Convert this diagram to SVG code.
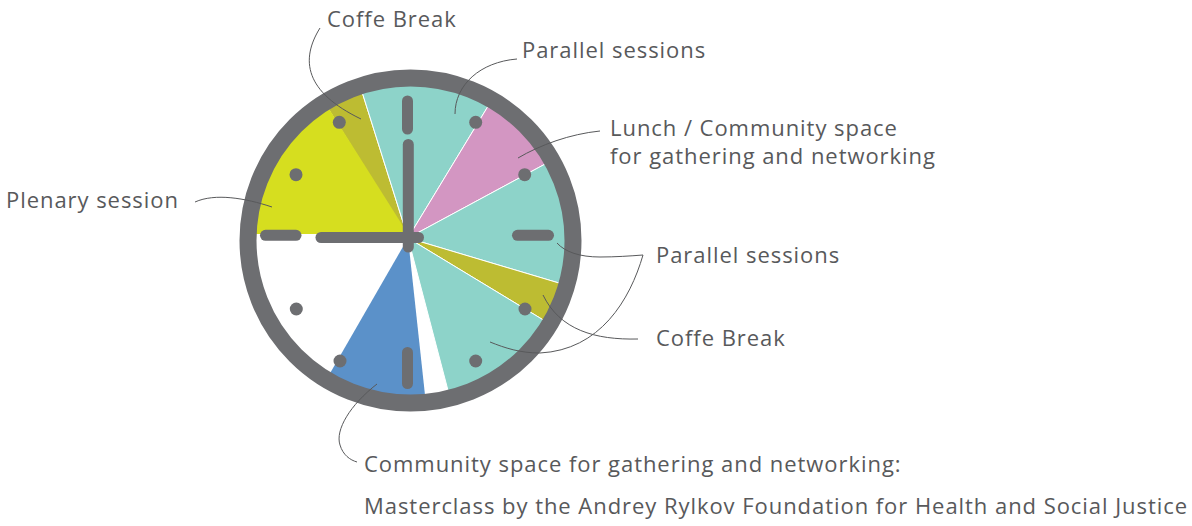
<svg xmlns="http://www.w3.org/2000/svg" width="1192" height="526" viewBox="0 0 1192 526">
<style>
.lbl{font-family:"Open Sans","Liberation Sans",sans-serif;font-size:22px;fill:#58595b;letter-spacing:0.95px}
.lead{fill:none;stroke:#58595b;stroke-width:1}
.mk{stroke:#6d6e71;stroke-width:11;stroke-linecap:round;fill:none}
.dot{fill:#6d6e71}
.w{stroke:#fff;stroke-width:1}
</style>
<defs>
<clipPath id="face"><circle cx="410.5" cy="240.5" r="162"/></clipPath>
</defs>
<rect width="1192" height="526" fill="#fff"/>
<g id="clock">
<g clip-path="url(#face)">
<path class="w" fill="#bdbc32" d="M408,238 L291,48.5 L340.5,23.5 Z"/>
<path class="w" fill="#8dd3c9" d="M408,238 L340.5,23.5 L526.1,43.5 Z"/>
<path class="w" fill="#d396c2" d="M408,238 L526.1,43.5 L611,128.5 Z"/>
<path class="w" fill="#8dd3c9" d="M408,238 L611,128.5 L636,306 Z"/>
<path class="w" fill="#bdbc32" d="M408,238 L636,306 L611,361 Z"/>
<path class="w" fill="#8dd3c9" d="M408,238 L611,361 L468.5,468.6 Z"/>
<path fill="#5b91c9" d="M408,238 L433.5,473.5 L291,441 Z"/>
<path fill="#d6de1f" d="M408,234 L181,234 L181,100 L291,48.5 Z"/>
</g>
<circle cx="410.5" cy="240.5" r="162.5" fill="none" stroke="#6d6e71" stroke-width="17"/>
<line class="mk" x1="407.5" y1="101" x2="407.5" y2="129"/>
<line class="mk" x1="407.5" y1="352.5" x2="407.5" y2="383.5"/>
<line class="mk" x1="517.5" y1="235.3" x2="548.5" y2="235.3"/>
<line class="mk" x1="265.5" y1="235.3" x2="296" y2="235.3"/>
<circle class="dot" cx="339.3" cy="122.3" r="6.5"/>
<circle class="dot" cx="475.7" cy="122.3" r="6.5"/>
<circle class="dot" cx="296" cy="174.7" r="6.5"/>
<circle class="dot" cx="524.7" cy="174.7" r="6.5"/>
<circle class="dot" cx="296.3" cy="309" r="6.5"/>
<circle class="dot" cx="525" cy="309" r="6.5"/>
<circle class="dot" cx="340" cy="361" r="6.5"/>
<circle class="dot" cx="475.7" cy="361" r="6.5"/>
<line class="mk" x1="408.3" y1="144.5" x2="408.3" y2="247"/>
<line class="mk" x1="321" y1="237.5" x2="418.5" y2="237.5"/>
</g>
<g id="connectors">
<path class="lead" d="M320,28 C300,60 305,92 361,119"/>
<path class="lead" d="M517,59 C480,62 455,85 455,114"/>
<path class="lead" d="M600,131 C570,134 540,145 518,158"/>
<path class="lead" d="M195,202 C215,193 245,198 272,207"/>
<path class="lead" d="M557,243 C565,252 580,257 600,257 C615,257 630,256 643,255"/>
<path class="lead" d="M643,255 C630,300 600,350 540,353 C520,353 505,348 490,342"/>
<path class="lead" d="M543,295 C560,330 595,340 638,339"/>
<path class="lead" d="M377,384 C350,405 335,430 340,445 C343,455 350,460 357,462"/>
</g>
<g id="label-coffee-top"><text class="lbl" x="327" y="27">Coffe Break</text></g>
<g id="label-parallel-top"><text class="lbl" x="522" y="58">Parallel sessions</text></g>
<g id="label-lunch"><text class="lbl" x="610" y="136">Lunch / Community space</text><text class="lbl" x="610" y="164">for gathering and networking</text></g>
<g id="label-plenary"><text class="lbl" x="6" y="208">Plenary session</text></g>
<g id="label-parallel-right"><text class="lbl" x="656" y="263">Parallel sessions</text></g>
<g id="label-coffee-right"><text class="lbl" x="656" y="346">Coffe Break</text></g>
<g id="label-community"><text class="lbl" x="364" y="472">Community space for gathering and networking:</text><text class="lbl" x="364" y="514">Masterclass by the Andrey Rylkov Foundation for Health and Social Justice</text></g>
</svg>
